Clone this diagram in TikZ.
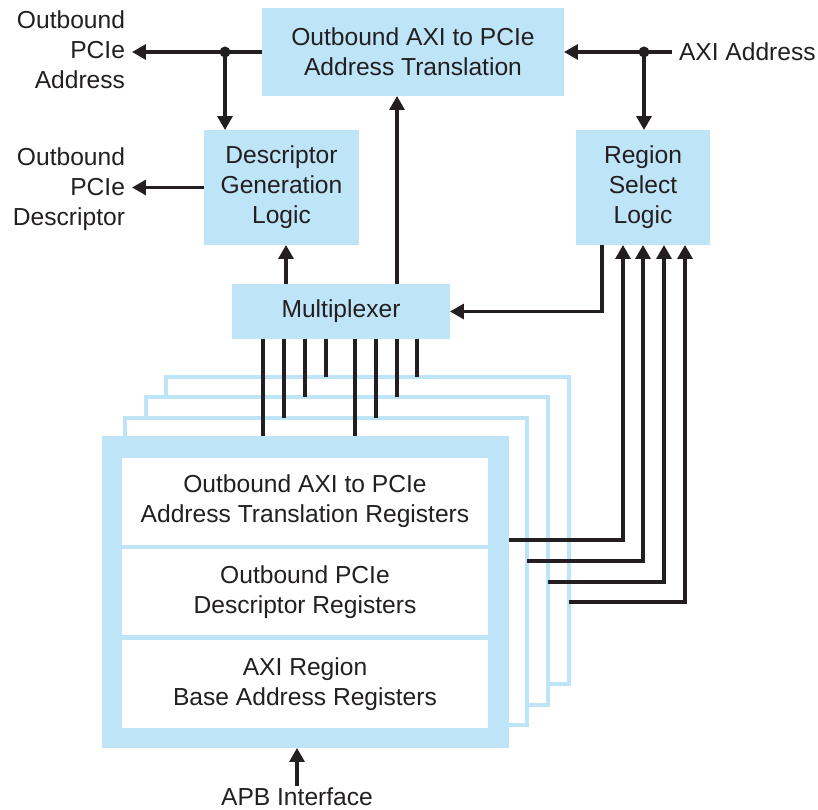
\documentclass[tikz,border=0pt]{standalone}
\usepackage{fontspec}
\setmainfont{Liberation Sans}
\usetikzlibrary{arrows.meta}
\definecolor{lightblue}{HTML}{BEE4F8}
\definecolor{darkline}{HTML}{231F20}

\begin{document}
\begin{tikzpicture}[x=0.02cm, y=-0.02cm,
	font=\fontsize{14}{17}\selectfont, text=darkline,
	block/.style={shape=rectangle, fill=lightblue, inner sep=0, outer sep=0, align=center},
	regbox/.style={shape=rectangle, fill=white, inner sep=0, outer sep=0, align=center, minimum width=7.32cm},
	frame/.style={shape=rectangle, draw=lightblue, line width=0.08cm, fill=white, inner sep=0, outer sep=0, minimum width=8.06cm, minimum height=6.16cm},
	sidetext/.style={inner sep=0.14cm, outer sep=0},
	arr/.style={-{Triangle[length=0.28cm, width=0.3cm]}, line width=0.065cm, draw=darkline},
	wire/.style={line width=0.065cm, draw=darkline}]

	\useasboundingbox (0,0) rectangle (818,810);

	\draw (413,52) node[block, minimum width=6.04cm, minimum height=1.76cm](trans){Outbound AXI to PCIe\\Address Translation};
	\draw (281.5,187.5) node[block, minimum width=3.1cm, minimum height=2.3cm](desc){Descriptor\\Generation\\Logic};
	\draw (643,187.5) node[block, minimum width=2.68cm, minimum height=2.3cm](region){Region\\Select\\Logic};
	\draw (341,311.5) node[block, minimum width=4.36cm, minimum height=1.1cm](mux){Multiplexer};

	\draw (132,50) node[sidetext, anchor=east, align=right](oaddr){Outbound\\PCIe\\Address};
	\draw (132,189) node[sidetext, anchor=east, align=right](odesc){Outbound\\PCIe\\Descriptor};
	\draw (672,52) node[sidetext, anchor=west](axi){AXI Address};
	\draw (297,797) node[inner sep=0.04cm](apb){APB Interface};

	\draw (367.5,530.5) node[frame](f3){};
	\draw (347,551) node[frame](f2){};
	\draw (326,571.5) node[frame](f1){};
	\draw (305.5,592) node[block, minimum width=8.14cm, minimum height=6.24cm](front){};
	\draw (305,501.5) node[regbox, minimum height=1.74cm](r1){Outbound AXI to PCIe\\Address Translation Registers};
	\draw (305,592) node[regbox, minimum height=1.74cm](r2){Outbound PCIe\\Descriptor Registers};
	\draw (305,684) node[regbox, minimum height=1.78cm](r3){AXI Region\\Base Address Registers};

	\coordinate (jl) at (225,52);
	\coordinate (jr) at (644,52);

	\draw [arr](trans.west) -- (trans.west -| oaddr.east);
	\draw [arr](jl) -- (jl |- desc.north);
	\draw [arr](desc.west) -- (desc.west -| odesc.east);
	\draw [arr](axi.west) -- (trans.east);
	\draw [arr](jr) -- (jr |- region.north);
	\fill [darkline](jl) circle (0.11cm);
	\fill [darkline](jr) circle (0.11cm);

	\draw [arr](286,0 |- mux.north) -- (286,0 |- desc.south);
	\draw [arr](397,0 |- mux.north) -- (397,0 |- trans.south);
	\draw [arr](602,0 |- region.south) |- (mux.east);

	\draw [wire](263,0 |- mux.south) -- (263,0 |- front.north);
	\draw [wire](355,0 |- mux.south) -- (355,0 |- front.north);
	\draw [wire](284,0 |- mux.south) -- (284,0 |- f1.north);
	\draw [wire](376,0 |- mux.south) -- (376,0 |- f1.north);
	\draw [wire](305,0 |- mux.south) -- (305,0 |- f2.north);
	\draw [wire](397,0 |- mux.south) -- (397,0 |- f2.north);
	\draw [wire](326,0 |- mux.south) -- (326,0 |- f3.north);
	\draw [wire](417,0 |- mux.south) -- (417,0 |- f3.north);

	\draw [arr](front.east |- 0,540) -| (623,0 |- region.south);
	\draw [arr](f1.east |- 0,561) -| (643,0 |- region.south);
	\draw [arr](f2.east |- 0,582) -| (664,0 |- region.south);
	\draw [arr](f3.east |- 0,602) -| (685,0 |- region.south);

	\draw [arr](apb.north) -- (apb.north |- front.south);
\end{tikzpicture}
\end{document}
